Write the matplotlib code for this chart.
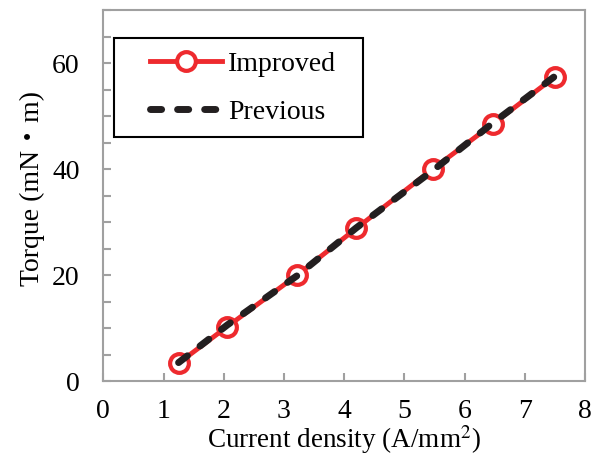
import matplotlib.pyplot as plt
from matplotlib.patches import Rectangle
from matplotlib.ticker import MultipleLocator

plt.rcParams['font.family'] = ['Liberation Serif', 'DejaVu Serif']
plt.rcParams['mathtext.fontset'] = 'stix'

# current density [A/mm^2] and torque [mN*m]
density = [1.25, 2.06, 3.22, 4.20, 5.47, 6.47, 7.50]
torque_improved = [3.4, 10.3, 20.0, 28.8, 40.0, 48.5, 57.4]
torque_previous = [3.5, 10.6, 19.9, 28.9, 39.7, 48.7, 57.5]

fig = plt.figure(figsize=(5.99, 4.57), dpi=100)
ax = fig.add_axes([0.1725, 0.166, 0.804, 0.812])

ax.plot(density, torque_improved, color='#ee2a2e', lw=3.5, marker='o',
        markersize=13.5, markerfacecolor='white', markeredgecolor='#ee2a2e',
        markeredgewidth=3, label='Improved', zorder=2)
ax.plot(density, torque_previous, color='#231f20', lw=5, ls=(0, (1.6, 2.3)),
        dash_capstyle='round', label='Previous', zorder=3)

ax.set_xlim(0, 8)
ax.set_ylim(0, 70)
ax.xaxis.set_major_locator(MultipleLocator(1))
ax.yaxis.set_major_locator(MultipleLocator(20))
ax.yaxis.set_minor_locator(MultipleLocator(5))

for s in ax.spines.values():
    s.set_color('#a0a0a0')
    s.set_linewidth(1.5)
ax.tick_params(which='both', direction='in', color='#a0a0a0', width=1.5,
               length=6, labelsize=20)
ax.tick_params(axis='y', pad=17)
ax.tick_params(axis='x', pad=13)

ax.set_xlabel('Current density (A/mm$^2$)', fontsize=19.5, labelpad=-1)
ax.set_ylabel('Torque (mN・m)', fontsize=20, labelpad=5, y=0.52,
              family=['Liberation Serif', 'Noto Sans CJK JP'])

# legend entries without their own frame, boxed by a rectangle
leg = ax.legend(loc='upper left', bbox_to_anchor=(0.097, 0.888), fontsize=20,
                frameon=False, handlelength=2.6, handletextpad=0.2,
                borderpad=0, labelspacing=0.8, borderaxespad=0)
ax.add_patch(Rectangle((0.022, 0.658), 0.517, 0.267, transform=ax.transAxes,
                       facecolor='white', edgecolor='black', lw=1.5,
                       zorder=4))
leg.set_zorder(5)

fig.savefig('out.png', dpi=100)
